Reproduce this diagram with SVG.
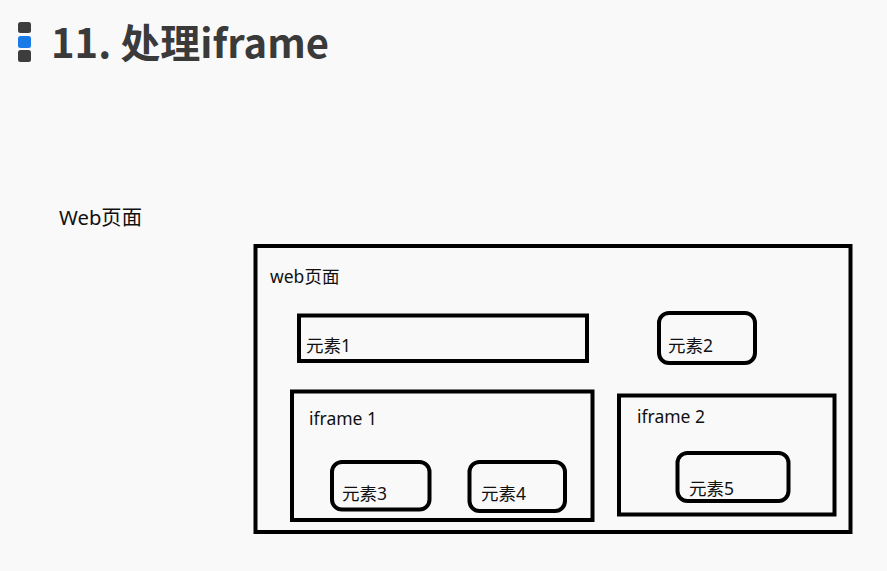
<svg xmlns="http://www.w3.org/2000/svg" width="887" height="571" viewBox="0 0 887 571">
<style>
.t{font-family:"Noto Sans","Noto Sans CJK SC",sans-serif;fill:#111;font-size:17.5px}
.box{fill:none;stroke:#000;stroke-width:4}
</style>
<rect width="887" height="571" fill="#f9f9f9"/>
<g id="title">
<rect x="18" y="22" width="13" height="11" rx="2.5" fill="#3d3d3d"/>
<rect x="18" y="36" width="13" height="12" rx="2.5" fill="#1a7ae6"/>
<rect x="18" y="50" width="13" height="12" rx="2.5" fill="#3d3d3d"/>
<text x="51" y="58" font-family="Noto Sans CJK SC, Noto Sans, sans-serif" font-weight="bold" font-size="40" fill="#3a3a3a">11. 处理iframe</text>
</g>
<g id="caption"><text class="t" x="59" y="225" style="font-size:20.3px">Web页面</text></g>
<g id="web"><rect class="box" x="255.5" y="246" width="595" height="286"/><text class="t" x="270" y="283">web页面</text></g>
<g id="e1"><rect class="box" x="299" y="315.5" width="288" height="45.5"/><text class="t" x="306" y="352">元素1</text></g>
<g id="e2"><rect class="box" x="659" y="313" width="96" height="50" rx="10"/><text class="t" x="668" y="352">元素2</text></g>
<g id="iframe1"><rect class="box" x="292" y="391.5" width="300.5" height="128.5"/><text class="t" x="309" y="425">iframe 1</text></g>
<g id="e3"><rect class="box" x="332" y="462" width="97.5" height="47.5" rx="10"/><text class="t" x="342" y="500">元素3</text></g>
<g id="e4"><rect class="box" x="469.5" y="462" width="95.5" height="49" rx="10"/><text class="t" x="481" y="500">元素4</text></g>
<g id="iframe2"><rect class="box" x="619" y="395.5" width="215.5" height="119"/><text class="t" x="637" y="423">iframe 2</text></g>
<g id="e5"><rect class="box" x="677.5" y="453" width="111" height="48" rx="10"/><text class="t" x="689" y="495">元素5</text></g>
<g id="connectors"/>
</svg>
